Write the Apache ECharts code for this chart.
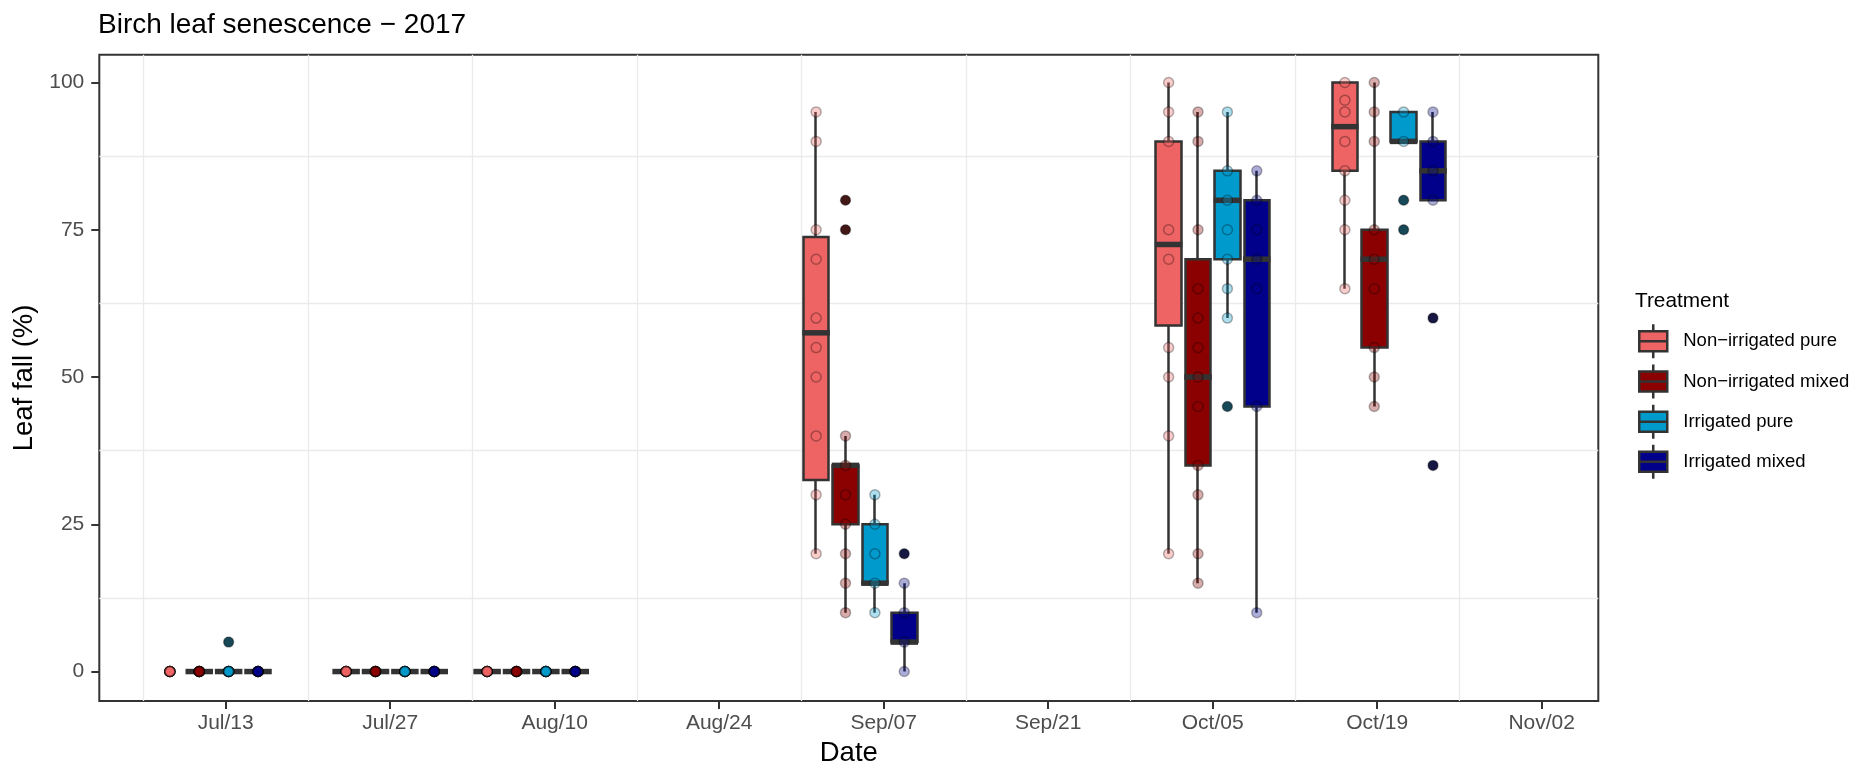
<!DOCTYPE html>
<html><head><meta charset="utf-8">
<script src="https://cdn.jsdelivr.net/npm/echarts@6/dist/echarts.min.js"></script>
<style>html,body{margin:0;padding:0;background:#fff}#c{width:1863px;height:772px}</style>
</head><body><div id="c"></div>
<script>
// ---------------- data ----------------
const chartTitle = 'Birch leaf senescence \u2212 2017';
const legendTitle = 'Treatment';
const treatments = ['Non\u2212irrigated pure', 'Non\u2212irrigated mixed', 'Irrigated pure', 'Irrigated mixed'];
const dates = ['2017-07-12', '2017-07-27', '2017-08-08', '2017-09-05', '2017-10-05', '2017-10-20'];
const xTickDates = ['2017-07-13', '2017-07-27', '2017-08-10', '2017-08-24', '2017-09-07', '2017-09-21', '2017-10-05', '2017-10-19', '2017-11-02'];
const xGridDates = ['2017-07-06', '2017-07-20', '2017-08-03', '2017-08-17', '2017-08-31', '2017-09-14', '2017-09-28', '2017-10-12', '2017-10-26'];
const yTicks = [0, 25, 50, 75, 100];
const yGrid = [12.5, 37.5, 62.5, 87.5];

// box stats per date: [min, Q1, median, Q3, max]
const boxNonIrrPure  = [null, [0,0,0,0,0], [0,0,0,0,0], [20,32.5,57.5,73.75,95], [20,58.75,72.5,90,100], [65,85,92.5,100,100]];
const boxNonIrrMixed = [[0,0,0,0,0], [0,0,0,0,0], [0,0,0,0,0], [10,25,35,35,40], [15,35,50,70,95], [45,55,70,75,100]];
const boxIrrPure     = [[0,0,0,0,0], [0,0,0,0,0], [0,0,0,0,0], [10,15,15,25,30], [60,70,80,85,95], [90,90,90,95,95]];
const boxIrrMixed    = [[0,0,0,0,0], [0,0,0,0,0], [0,0,0,0,0], [0,5,5,10,15], [10,45,70,80,85], [80,80,85,90,95]];

// outliers per date
const outNonIrrPure  = [[], [], [], [], [], []];
const outNonIrrMixed = [[], [], [], [80, 75], [], []];
const outIrrPure     = [[5], [], [], [], [45], [80, 75]];
const outIrrMixed    = [[], [], [], [20], [], [60, 35]];

// observations per date
const Z = [0,0,0,0,0,0,0,0,0,0];
const obsNonIrrPure  = [Z, Z, Z, [95,90,75,70,60,55,50,40,30,20], [100,95,90,75,70,55,50,40,20], [100,97,95,90,85,80,75,65]];
const obsNonIrrMixed = [Z, Z, Z, [80,75,40,35,30,25,20,15,10], [95,90,75,65,60,55,50,45,35,30,20,15], [100,95,90,75,70,65,55,50,45]];
const obsIrrPure     = [Z.concat([5]), Z, Z, [30,25,20,15,10], [95,85,80,75,70,65,60,45], [95,90,80,75]];
const obsIrrMixed    = [Z, Z, Z, [20,15,10,5,0], [85,80,75,70,65,45,10], [95,90,85,80,60,35]];

// ---------------- style ----------------
const colors = ['#EE6363', '#8B0000', '#009ACD', '#00008B'];
const boxes = [boxNonIrrPure, boxNonIrrMixed, boxIrrPure, boxIrrMixed];
const outs = [outNonIrrPure, outNonIrrMixed, outIrrPure, outIrrMixed];
const obs = [obsNonIrrPure, obsNonIrrMixed, obsIrrPure, obsIrrMixed];
const DODGE = 2.5; // days between dodged boxes
const FONT = 'Liberation Sans, Arial, sans-serif';

function dayNum(s) { const p = s.split('-').map(Number); return Date.UTC(p[0], p[1] - 1, p[2]) / 86400000; }
const MONTHS = ['Jan','Feb','Mar','Apr','May','Jun','Jul','Aug','Sep','Oct','Nov','Dec'];
function fmtDay(v) { const d = new Date(Math.round(v) * 86400000); return MONTHS[d.getUTCMonth()] + '/' + String(d.getUTCDate()).padStart(2, '0'); }
function rgba(hex, a) { const n = parseInt(hex.slice(1), 16); return 'rgba(' + (n >> 16) + ',' + ((n >> 8) & 255) + ',' + (n & 255) + ',' + a + ')'; }

const xMin = dayNum('2017-07-13') - 10.757;
const xMax = dayNum('2017-11-02') + 4.817;

const series = [];
treatments.forEach(function (name, i) {
  const xs = dates.map(function (d) { return dayNum(d) + (i - 1.5) * DODGE; });
  const c = colors[i];
  const cs = [], med = [], out = [], pts = [];
  boxes[i].forEach(function (b, j) {
    if (!b) return;
    cs.push([xs[j], b[1], b[3], b[0], b[4]]);
    med.push([xs[j], b[2]]);
  });
  outs[i].forEach(function (arr, j) { arr.forEach(function (v) { out.push([xs[j], v]); }); });
  obs[i].forEach(function (arr, j) { arr.forEach(function (v) { pts.push([xs[j], v]); }); });
  series.push({
    type: 'candlestick', name: name, data: cs, barWidth: 26, z: 2,
    itemStyle: { color: c, color0: c, borderColor: '#333', borderColor0: '#333', borderColorDoji: '#333', borderWidth: 2.5 }
  });
  series.push({
    type: 'scatter', name: name, data: med, symbol: 'rect', symbolSize: [27.5, 5.5], z: 3,
    itemStyle: { color: '#333', opacity: 1 }
  });
  series.push({
    type: 'scatter', name: name, data: out, symbol: 'circle', symbolSize: 10, z: 4,
    itemStyle: { color: '#222', opacity: 1 }
  });
  series.push({
    type: 'scatter', name: name, data: pts, symbol: 'circle', symbolSize: 10, z: 5,
    itemStyle: { color: rgba(c, 0.32), borderColor: 'rgba(0,0,0,0.3)', borderWidth: 1.5, opacity: 1 }
  });
});

const ICON = 'path://M14,0L14,7M0,7L28,7L28,27L0,27ZM0,17L28,17M14,27L14,34';

const option = {
  animation: false,
  backgroundColor: '#fff',
  textStyle: { fontFamily: FONT },
  title: [
    { text: chartTitle, left: 98, top: 11.3, padding: 0,
      textStyle: { fontFamily: FONT, fontSize: 28, fontWeight: 'normal', color: '#000', lineHeight: 28 } },
    { text: legendTitle, left: 1635, top: 290.5, padding: 0,
      textStyle: { fontFamily: FONT, fontSize: 20.8, fontWeight: 'normal', color: '#000', lineHeight: 20.8 } }
  ],
  legend: {
    orient: 'vertical', left: 1638, top: 323, padding: 0,
    itemWidth: 28, itemHeight: 34, itemGap: 3.7,
    selectedMode: false,
    textStyle: { fontFamily: FONT, fontSize: 18.5, color: '#000', padding: [0, 0, 0, 11] },
    data: treatments.map(function (t, i) {
      return { name: t, icon: ICON, itemStyle: { color: colors[i], borderColor: '#333', borderWidth: 2.5, opacity: 1 } };
    })
  },
  grid: { left: 99.3, right: 264.7, top: 54.8, bottom: 64.3, show: true, borderColor: '#333', borderWidth: 2, backgroundColor: 'transparent' },
  xAxis: [
    { type: 'value', min: xMin, max: xMax, position: 'bottom',
      name: 'Date', nameLocation: 'middle', nameGap: 38,
      nameTextStyle: { fontFamily: FONT, fontSize: 27.5, color: '#000' },
      axisLine: { show: false, onZero: false },
      axisTick: { show: true, length: 8, lineStyle: { color: '#333', width: 2 }, customValues: xTickDates.map(dayNum) },
      axisLabel: { show: true, margin: 12, fontFamily: FONT, fontSize: 21, color: '#4d4d4d', customValues: xTickDates.map(dayNum), formatter: fmtDay },
      splitLine: { show: false } },
    { type: 'value', min: xMin, max: xMax, position: 'bottom',
      axisLine: { show: false, onZero: false }, axisLabel: { show: false },
      axisTick: { show: false, customValues: xGridDates.map(dayNum) },
      splitLine: { show: true, lineStyle: { color: '#ebebeb', width: 1.3 } } }
  ],
  yAxis: [
    { type: 'value', min: -5, max: 104.7, position: 'left',
      name: 'Leaf fall (%)', nameLocation: 'middle', nameGap: 58,
      nameTextStyle: { fontFamily: FONT, fontSize: 27.5, color: '#000' },
      axisLine: { show: false, onZero: false },
      axisTick: { show: true, length: 8, lineStyle: { color: '#333', width: 2 }, customValues: yTicks },
      axisLabel: { show: true, margin: 15, fontFamily: FONT, fontSize: 21, color: '#4d4d4d', customValues: yTicks },
      splitLine: { show: false } },
    { type: 'value', min: -5, max: 104.7, position: 'left',
      axisLine: { show: false, onZero: false }, axisLabel: { show: false },
      axisTick: { show: false, customValues: yGrid },
      splitLine: { show: true, lineStyle: { color: '#ebebeb', width: 1.3 } } }
  ],
  series: series
};

const chart = echarts.init(document.getElementById('c'), null, { renderer: 'canvas' });
chart.setOption(option);
</script>
</body></html>
